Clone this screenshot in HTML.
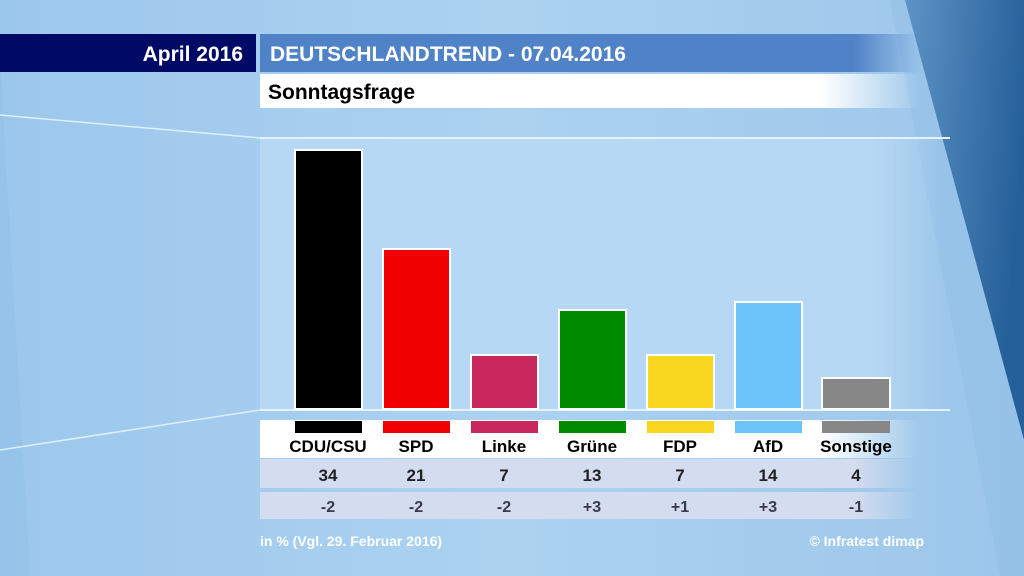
<!DOCTYPE html>
<html><head><meta charset="utf-8"><style>
body{margin:0;width:1024px;height:576px;overflow:hidden;font-family:"Liberation Sans",sans-serif;}
</style></head><body>
<svg width="1024" height="576" style="position:absolute;left:0;top:0">
<defs>
<linearGradient id="bg" x1="0" y1="0" x2="1" y2="0">
<stop offset="0" stop-color="#9cc7ec"/><stop offset="0.5" stop-color="#acd2f0"/><stop offset="1" stop-color="#9cc6ea"/></linearGradient>
<linearGradient id="dk" x1="0" y1="0" x2="1" y2="0.3">
<stop offset="0" stop-color="#5d93c6"/><stop offset="1" stop-color="#26609a"/></linearGradient>
<linearGradient id="wf" x1="0" y1="0" x2="1" y2="0">
<stop offset="0.85" stop-color="#fff"/><stop offset="1" stop-color="#fff" stop-opacity="0"/></linearGradient>
<linearGradient id="bf" x1="0" y1="0" x2="1" y2="0">
<stop offset="0.9" stop-color="#5082c8"/><stop offset="1" stop-color="#5082c8" stop-opacity="0"/></linearGradient>
<linearGradient id="lf" x1="0" y1="0" x2="1" y2="0">
<stop offset="0.9" stop-color="#d4dcef"/><stop offset="1" stop-color="#d4dcef" stop-opacity="0"/></linearGradient>
<linearGradient id="pf" x1="0" y1="0" x2="1" y2="0">
<stop offset="0.9" stop-color="#b6d8f4"/><stop offset="1" stop-color="#b6d8f4" stop-opacity="0"/></linearGradient>
</defs>
<rect width="1024" height="576" fill="url(#bg)"/>
<polygon points="0,60 30,576 0,576" fill="#8fbde6" opacity="0.4"/>
<polygon points="890,0 1024,0 1024,576 1000,576" fill="#8bb8e0" opacity="0.3"/>
<polygon points="905,0 1024,0 1024,440" fill="url(#dk)"/>
<line x1="0" y1="115" x2="260" y2="138" stroke="#e0efff" stroke-width="1.5"/>
<line x1="0" y1="450" x2="260" y2="410" stroke="#e0efff" stroke-width="1.5"/>
<rect x="260" y="138" width="680" height="272" fill="url(#pf)"/>
<line x1="260" y1="138" x2="950" y2="138" stroke="#e6f2ff" stroke-width="2"/>
<line x1="260" y1="410" x2="950" y2="410" stroke="#e6f2ff" stroke-width="2"/>
<rect x="0" y="34" width="256" height="38" fill="#000a66"/>
<rect x="260" y="34" width="660" height="38" fill="url(#bf)"/>
<rect x="260" y="74" width="660" height="34" fill="url(#wf)"/>
<g stroke="#fff" stroke-width="2">
<rect x="295" y="150" width="67" height="259" fill="#000"/>
<rect x="383" y="249" width="67" height="160" fill="#f00000"/>
<rect x="471" y="355" width="67" height="54" fill="#c8285e"/>
<rect x="559" y="310" width="67" height="99" fill="#008a00"/>
<rect x="647" y="355" width="67" height="54" fill="#f8d51e"/>
<rect x="735" y="302" width="67" height="107" fill="#6cc4fa"/>
<rect x="822" y="378" width="68" height="31" fill="#878787"/>
</g>
<rect x="260" y="420" width="660" height="38" fill="url(#wf)"/>
<rect x="295" y="421" width="67" height="12" fill="#000"/>
<rect x="383" y="421" width="67" height="12" fill="#f00000"/>
<rect x="471" y="421" width="67" height="12" fill="#c8285e"/>
<rect x="559" y="421" width="67" height="12" fill="#008a00"/>
<rect x="647" y="421" width="67" height="12" fill="#f8d51e"/>
<rect x="735" y="421" width="67" height="12" fill="#6cc4fa"/>
<rect x="822" y="421" width="68" height="12" fill="#878787"/>
<rect x="260" y="459" width="660" height="29" fill="url(#lf)"/>
<rect x="260" y="492" width="660" height="27" fill="url(#lf)"/>
<g font-family="Liberation Sans, sans-serif" font-weight="bold" text-anchor="middle">
<g font-size="17" fill="#000">
<text x="328" y="452">CDU/CSU</text><text x="416" y="452">SPD</text><text x="504" y="452">Linke</text><text x="592" y="452">Grüne</text><text x="680" y="452">FDP</text><text x="768" y="452">AfD</text><text x="856" y="452">Sonstige</text>
</g>
<g font-size="17" fill="#222">
<text x="328" y="481">34</text><text x="416" y="481">21</text><text x="504" y="481">7</text><text x="592" y="481">13</text><text x="680" y="481">7</text><text x="768" y="481">14</text><text x="856" y="481">4</text>
</g>
<g font-size="16" fill="#3a3a4a">
<text x="328" y="512">-2</text><text x="416" y="512">-2</text><text x="504" y="512">-2</text><text x="592" y="512">+3</text><text x="680" y="512">+1</text><text x="768" y="512">+3</text><text x="856" y="512">-1</text>
</g>
</g>
<g font-family="Liberation Sans, sans-serif" font-weight="bold">
<text x="243" y="61" font-size="21" fill="#fff" text-anchor="end">April 2016</text>
<text x="270" y="61" font-size="21" fill="#fff">DEUTSCHLANDTREND - 07.04.2016</text>
<text x="268" y="99" font-size="21" fill="#000">Sonntagsfrage</text>
<text x="260" y="546" font-size="14" fill="#fff">in % (Vgl. 29. Februar 2016)</text>
<text x="924" y="546" font-size="14" fill="#fff" text-anchor="end">© Infratest dimap</text>
</g>
</svg>
</body></html>
